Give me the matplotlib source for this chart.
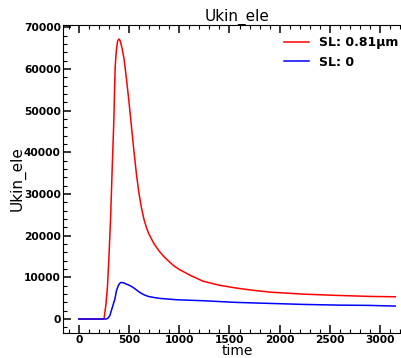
import matplotlib
matplotlib.use("Agg")
import matplotlib.pyplot as plt
from matplotlib.ticker import MultipleLocator, AutoMinorLocator

# courbe rouge (SL: 0.81µm)
t_red = [0, 100, 200, 240, 252, 270, 286, 302, 316, 332, 349, 356, 362, 374, 386, 399,
         412, 430, 450, 475, 500, 525, 550, 575, 600, 625, 650, 675, 700, 750, 800, 850,
         907, 950, 1000, 1100, 1236, 1400, 1575, 1750, 1904, 2233, 2572, 2901, 3150]
ukin_red = [0, 0, 0, 0, 200, 3500, 8000, 16000, 23900, 35900, 47800, 55000, 60500, 64500,
            66700, 67200, 66800, 65000, 62500, 57500, 52000, 46000, 40000, 34500, 30000,
            26500, 23800, 21800, 20300, 18000, 16300, 14900, 13600, 12700, 11900, 10600,
            9080, 8100, 7400, 6850, 6450, 5970, 5660, 5420, 5330]

# courbe bleue (SL: 0)
t_blue = [0, 100, 200, 276, 290, 309, 330, 359, 375, 392, 405, 419, 445, 475, 510, 541,
          575, 608, 650, 691, 750, 808, 974, 1240, 1572, 1904, 2236, 2568, 2900, 3150]
ukin_blue = [0, 0, 0, 0, 200, 800, 2500, 4780, 6800, 7960, 8500, 8760, 8700, 8360, 8000,
             7570, 6950, 6370, 5800, 5420, 5150, 4940, 4620, 4380, 3980, 3740, 3500, 3340,
             3260, 3100]

fig = plt.figure(figsize=(4.02, 3.58), dpi=100)
ax = fig.add_axes([63 / 402, 25 / 358, 348 / 402, 308 / 358])

ax.plot(t_red, ukin_red, color='red', lw=1.1, label='SL: 0.81μm')
ax.plot(t_blue, ukin_blue, color='blue', lw=1.1, label='SL: 0')

ax.set_title('Ukin_ele', fontsize=11, pad=2)
ax.set_xlabel('time', fontsize=10, labelpad=-0.6)
ax.set_ylabel('Ukin_ele', fontsize=11, labelpad=-1.5)

ax.xaxis.set_major_locator(MultipleLocator(500))
ax.xaxis.set_minor_locator(MultipleLocator(100))
ax.yaxis.set_major_locator(MultipleLocator(10000))
ax.yaxis.set_minor_locator(AutoMinorLocator(5))
ax.tick_params(which='both', direction='in', top=True, right=True)
ax.tick_params(which='major', length=6, width=1.1, labelsize=7.7, pad=1.5)
ax.tick_params(which='minor', length=3, width=0.8)
for lab in ax.get_xticklabels() + ax.get_yticklabels():
    lab.set_fontweight('bold')

leg = ax.legend(loc='upper right', frameon=False, prop={'weight': 'bold', 'size': 9},
                bbox_to_anchor=(0.997, 1.0))

fig.savefig('out.png', dpi=100)
